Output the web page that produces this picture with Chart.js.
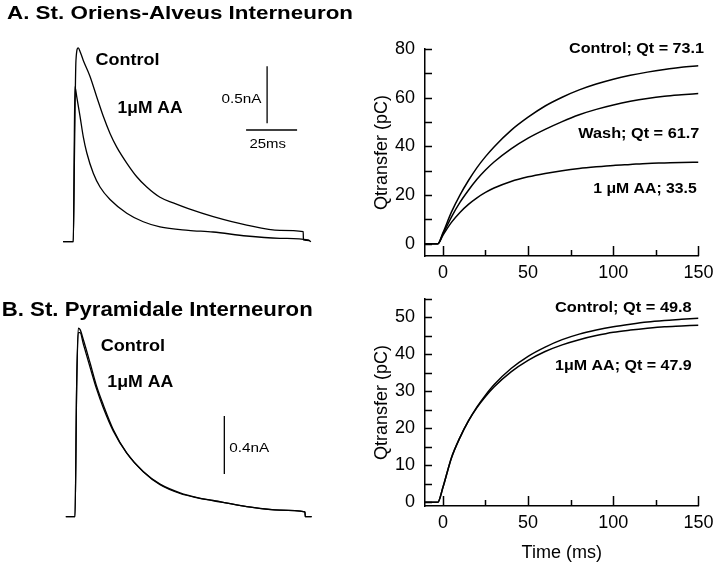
<!DOCTYPE html>
<html><head><meta charset="utf-8">
<script src="https://cdn.jsdelivr.net/npm/chart.js@4.4.0/dist/chart.umd.min.js"></script>
<style>
html,body{margin:0;padding:0;background:#fff;}
#wrap{position:relative;width:720px;height:566px;overflow:hidden;background:#fff;}
#wrap canvas{position:absolute;left:0;top:0;}
</style></head><body>
<div id="wrap">
<canvas id="cA1" width="720" height="566"></canvas>
<canvas id="cA2" width="720" height="566"></canvas>
<canvas id="cB1" width="720" height="566"></canvas>
<canvas id="cB2" width="720" height="566"></canvas>
</div>
<script>
// ---------- DATA ----------
// Panel A, current traces (time ms, current nA)
const traceA_ctrl_t = [-5, 0, 0.6, 1.3, 2.4, 3.5, 4.9, 8.2, 11.5, 14.7, 18, 21.3, 26.2, 31.1, 36, 42.5, 49, 56.4, 68.6, 85, 101.3, 112.7, 112.8, 116];
const traceA_ctrl_i = [0, 0, 0.8, 1.59, 1.70, 1.66, 1.59, 1.45, 1.27, 1.10, 0.95, 0.83, 0.69, 0.57, 0.48, 0.39, 0.34, 0.29, 0.22, 0.146, 0.10, 0.088, 0.015, 0.01];
const traceA_aa_t = [-5, 0, 0.4, 0.8, 1.7, 3.3, 4.9, 6.6, 9.8, 13.1, 18, 26.2, 34.3, 42.5, 56.4, 68.5, 85, 101.3, 115, 116.5];
const traceA_aa_i = [0, 0, 0.7, 1.36, 1.27, 1.10, 0.92, 0.78, 0.60, 0.48, 0.37, 0.25, 0.175, 0.13, 0.10, 0.085, 0.05, 0.03, 0.015, 0.0];
// Panel B, current traces
const traceB_ctrl_t = [-4.5, 0, 0.8, 1.6, 2.5, 4.1, 7.4, 10.6, 13.9, 18.8, 25.3, 33.5, 41.7, 51.5, 60, 67.8, 84.2, 100.5, 112.7, 112.9, 116];
const traceB_ctrl_i = [0, 0, 0.9, 1.30, 1.29, 1.22, 1.06, 0.90, 0.77, 0.60, 0.44, 0.31, 0.22, 0.16, 0.13, 0.11, 0.07, 0.046, 0.034, 0.0, 0.0];
const traceB_aa_t = [-4.5, 0, 0.8, 1.6, 2.5, 4.1, 7.4, 10.6, 13.9, 18.8, 25.3, 33.5, 41.7, 51.5, 60, 67.8, 84.2, 100.5, 112.7, 112.9, 116];
const traceB_aa_i = [0, 0, 0.88, 1.27, 1.27, 1.19, 1.03, 0.88, 0.75, 0.59, 0.44, 0.31, 0.225, 0.165, 0.132, 0.112, 0.07, 0.046, 0.034, 0.0, 0.0];
// Scale bars
const scaleBarMs = [25];
const scaleBarNA = [0.5, 0.4];
// Charge transfer (time ms, pC)
const qTime = [-10.5, -3, 0, 5, 10, 15, 20, 25, 30, 40, 50, 60, 70, 80, 90, 100, 110, 120, 130, 140, 150];
const qA_control = [0, 0, 4.5, 13, 20, 26, 31.3, 35.8, 39.8, 46.6, 52, 56.6, 60.2, 63.2, 65.6, 67.6, 69.2, 70.5, 71.6, 72.5, 73.1];
const qA_wash    = [0, 0, 4, 11, 17, 22, 26.5, 30.3, 33.6, 39, 43.4, 47, 50.2, 53, 55.2, 57, 58.5, 59.7, 60.6, 61.2, 61.7];
const qA_aa      = [0, 0, 3.5, 8.8, 12.9, 16.2, 18.9, 21.1, 22.9, 25.6, 27.5, 28.9, 30.0, 30.9, 31.6, 32.2, 32.6, 33.0, 33.2, 33.4, 33.5];
const qB_control = [0, 0, 4, 12, 17.5, 22, 25.8, 29, 31.8, 36.2, 39.5, 42, 44, 45.5, 46.6, 47.5, 48.2, 48.8, 49.2, 49.5, 49.8];
const qB_aa      = [0, 0, 4, 12, 17.5, 22, 25.6, 28.6, 31.2, 35.3, 38.4, 40.8, 42.6, 44, 45.1, 46, 46.6, 47.1, 47.5, 47.7, 47.9];
// Axis ticks
const xTickLabels = [0, 50, 100, 150];
const xTicksMinor = [25, 75, 125];
const yTickLabelsA = [0, 20, 40, 60, 80];
const yTickMarksA = [0, 10, 20, 30, 40, 50, 60, 70, 80];
const yTickLabelsB = [0, 10, 20, 30, 40, 50];
const yTickMarksB = [0, 5, 10, 15, 20, 25, 30, 35, 40, 45, 50, 55];

// ---------- DRAWING ----------
const FONT = "'Liberation Sans', Arial, Helvetica, sans-serif";
Chart.defaults.font.family = FONT;
Chart.defaults.color = '#000';

function pts(xs, ys) { return xs.map((x, i) => ({x: x, y: ys[i]})); }
function lineDs(xs, ys, w) {
  return { data: pts(xs, ys), borderColor: '#000', borderWidth: w, pointRadius: 0, fill: false,
           cubicInterpolationMode: 'monotone' };
}
function segDs(p0, p1, w) {
  return { data: [p0, p1], borderColor: '#000', borderWidth: w, pointRadius: 0, fill: false, tension: 0 };
}
function stretchText(ctx, t) {
  ctx.save();
  ctx.font = (t.bold ? 'bold ' : '') + t.size + 'px ' + FONT;
  const w = ctx.measureText(t.text).width;
  const sx = t.w ? t.w / w : 1;
  const left = t.right !== undefined ? t.right - w * sx : t.x;
  ctx.translate(left, t.y);
  ctx.scale(sx, 1);
  ctx.fillStyle = '#000';
  ctx.textBaseline = 'alphabetic';
  ctx.textAlign = 'left';
  ctx.fillText(t.text, 0, 0);
  ctx.restore();
}
function textPlugin(texts) {
  return { id: 'texts', afterDraw(chart) { texts.forEach(t => stretchText(chart.ctx, t)); } };
}
function tickPlugin(yMarks) {
  return { id: 'inTicks', afterDraw(chart) {
    const {ctx, chartArea: a, scales: {x, y}} = chart;
    ctx.save(); ctx.strokeStyle = '#000'; ctx.lineWidth = 1.5; ctx.beginPath();
    yMarks.forEach(v => { const py = Math.round(y.getPixelForValue(v)) + 0.5; ctx.moveTo(a.left, py); ctx.lineTo(a.left + 7, py); });
    xTickLabels.forEach(v => { const px = Math.round(x.getPixelForValue(v)) + 0.5; ctx.moveTo(px, a.bottom); ctx.lineTo(px, a.bottom - 10); });
    xTicksMinor.forEach(v => { const px = Math.round(x.getPixelForValue(v)) + 0.5; ctx.moveTo(px, a.bottom); ctx.lineTo(px, a.bottom - 6); });
    ctx.stroke(); ctx.restore();
  } };
}
const baseOpts = { responsive: false, animation: false, events: [],
  plugins: { legend: { display: false }, tooltip: { enabled: false } } };

function traceChart(id, pad, xr, yr, datasets, texts) {
  return new Chart(document.getElementById(id), {
    type: 'line', data: { datasets: datasets },
    options: Object.assign({}, baseOpts, {
      layout: { padding: pad },
      scales: { x: { type: 'linear', display: false, min: xr[0], max: xr[1] },
                y: { type: 'linear', display: false, min: yr[0], max: yr[1] } }
    }),
    plugins: [textPlugin(texts)]
  });
}
function qChart(id, pad, yr, yLabels, yMarks, xHeight, xTitle, datasets, texts) {
  const ax = { grid: { display: false, drawTicks: false }, border: { display: true, color: '#000', width: 1.5 } };
  return new Chart(document.getElementById(id), {
    type: 'line', data: { datasets: datasets },
    options: Object.assign({}, baseOpts, {
      layout: { padding: pad },
      scales: {
        x: Object.assign({ type: 'linear', position: 'bottom', min: -10.5, max: 150,
          ticks: { padding: 6.5, font: { size: 18 }, color: '#000' },
          afterBuildTicks: s => { s.ticks = xTickLabels.map(v => ({ value: v })); },
          afterFit: s => { s.height = xHeight; },
          title: xTitle ? { display: true, text: xTitle, font: { size: 18 }, color: '#000', padding: { top: 0, bottom: 2.5 } } : { display: false }
        }, ax),
        y: Object.assign({ type: 'linear', position: 'left', min: yr[0], max: yr[1],
          ticks: { padding: 10, font: { size: 18 }, color: '#000' },
          afterBuildTicks: s => { s.ticks = yLabels.map(v => ({ value: v })); },
          afterFit: s => { s.width = 60; },
          title: { display: true, text: 'Qtransfer (pC)', font: { size: 18 }, color: '#000', padding: { top: 6, bottom: 0 } }
        }, ax)
      }
    }),
    plugins: [tickPlugin(yMarks), textPlugin(texts)]
  });
}

// Panel A left: traces
traceChart('cA1', { left: 50, right: 390, top: 30, bottom: 306 },
  [(50 - 73.3) / 2.04, (330 - 73.3) / 2.04], [(241.7 - 260) / 114, (241.7 - 30) / 114],
  [ lineDs(traceA_ctrl_t, traceA_ctrl_i, 1.3), lineDs(traceA_aa_t, traceA_aa_i, 1.3),
    segDs({x: 95, y: 1.04}, {x: 95, y: 1.04 + scaleBarNA[0]}, 1.3),
    segDs({x: 84.7, y: 0.98}, {x: 84.7 + scaleBarMs[0], y: 0.98}, 1.3) ],
  [ { text: 'A. St. Oriens-Alveus Interneuron', x: 7, y: 18.5, size: 19, bold: true, w: 346 },
    { text: 'Control', x: 95.5, y: 65, size: 16.5, bold: true, w: 64 },
    { text: '1\u03bcM AA', x: 117.5, y: 113.3, size: 16.5, bold: true, w: 65 },
    { text: '0.5nA', x: 221.5, y: 103.3, size: 13, w: 40 },
    { text: '25ms', x: 249.5, y: 148.3, size: 13, w: 36.5 } ]);

// Panel A right: charge transfer
qChart('cA2', { left: 365, right: 16.7, top: 49, bottom: 270 }, [-5, 80], yTickLabelsA, yTickMarksA, 40, null,
  [ lineDs(qTime, qA_control, 1.5), lineDs(qTime, qA_wash, 1.5), lineDs(qTime, qA_aa, 1.5) ],
  [ { text: 'Control; Qt = 73.1', right: 704, y: 53.3, size: 14.5, bold: true, w: 135 },
    { text: 'Wash; Qt = 61.7', right: 699.3, y: 137.7, size: 14.5, bold: true, w: 121 },
    { text: '1 \u03bcM AA; 33.5', right: 696.7, y: 193.3, size: 14.5, bold: true, w: 103.4 } ]);

// Panel B left: traces
traceChart('cB1', { left: 50, right: 390, top: 300, bottom: 36 },
  [(50 - 75) / 2.04, (330 - 75) / 2.04], [(516.7 - 530) / 145, (516.7 - 300) / 145],
  [ lineDs(traceB_ctrl_t, traceB_ctrl_i, 1.3), lineDs(traceB_aa_t, traceB_aa_i, 1.3),
    segDs({x: 73.2, y: 0.294}, {x: 73.2, y: 0.294 + scaleBarNA[1]}, 1.3) ],
  [ { text: 'B. St. Pyramidale Interneuron', x: 1.7, y: 315.7, size: 19.5, bold: true, w: 311 },
    { text: 'Control', x: 100.7, y: 351, size: 16.5, bold: true, w: 64.3 },
    { text: '1\u03bcM AA', x: 107.3, y: 387.3, size: 16.5, bold: true, w: 66 },
    { text: '0.4nA', x: 229.3, y: 451.7, size: 13, w: 40 } ]);

// Panel B right: charge transfer
qChart('cB2', { left: 365, right: 16.7, top: 299, bottom: 0 }, [-1, 55], yTickLabelsB, yTickMarksB, 60, 'Time (ms)',
  [ lineDs(qTime, qB_control, 1.5), lineDs(qTime, qB_aa, 1.5) ],
  [ { text: 'Control; Qt = 49.8', right: 691.7, y: 311.7, size: 14.5, bold: true, w: 136.7 },
    { text: '1\u03bcM AA; Qt = 47.9', right: 691.7, y: 370, size: 14.5, bold: true, w: 136.7 } ]);
</script>
</body></html>
